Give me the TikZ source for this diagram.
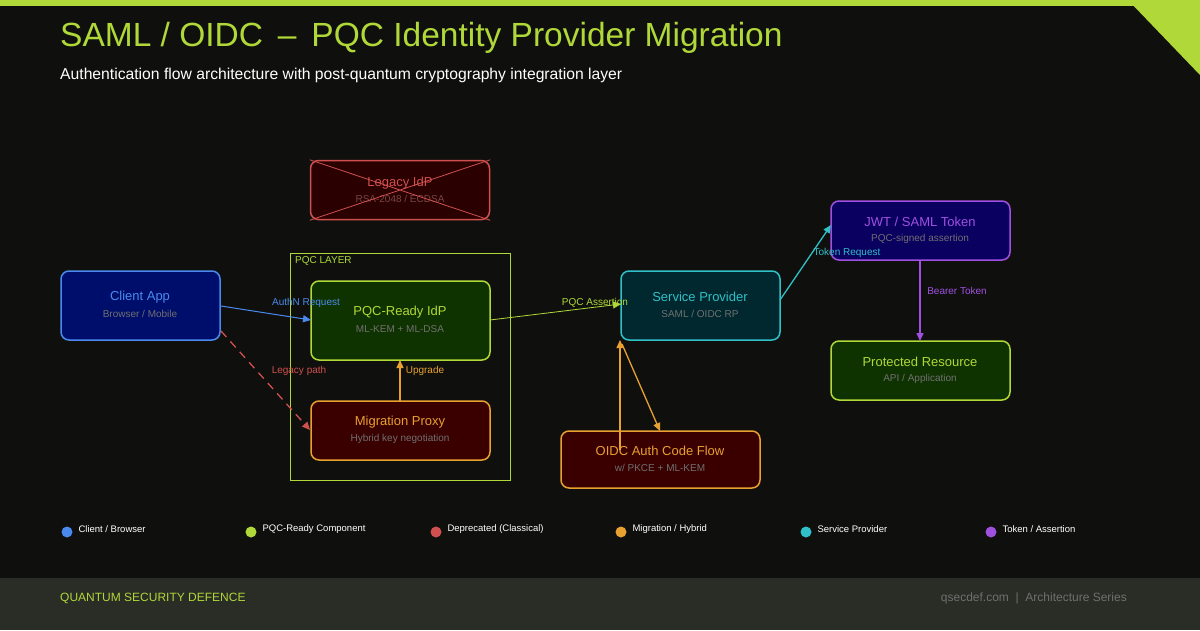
\documentclass[tikz,border=0pt]{standalone}
\usepackage{fontspec}
\setmainfont{Liberation Sans}
\usetikzlibrary{arrows.meta}
\definecolor{bg}{HTML}{0F100D}
\definecolor{lime}{HTML}{B0D838}
\definecolor{cblue}{HTML}{4A8AEF}
\definecolor{cred}{HTML}{D05050}
\definecolor{corange}{HTML}{E8A030}
\definecolor{ccyan}{HTML}{30C0C8}
\definecolor{cpurple}{HTML}{A050E0}
\definecolor{subtxt}{HTML}{707070}
\definecolor{fred}{HTML}{2A0000}
\definecolor{fred2}{HTML}{3A0000}
\definecolor{fblue}{HTML}{000E6B}
\definecolor{fgreen}{HTML}{0F3300}
\definecolor{fcyan}{HTML}{00282E}
\definecolor{fpurple}{HTML}{0A0060}
\definecolor{legsub}{HTML}{784646}
\definecolor{footbg}{HTML}{2A2C26}
\begin{document}
\begin{tikzpicture}[x=1pt,y=-1pt,
  box/.style={draw, line width=1.5pt, rounded corners=8pt, inner sep=0pt},
  ttl/.style={font=\fontsize{13}{13}\selectfont},
  sub/.style={font=\fontsize{10}{10}\selectfont, text=subtxt},
  lbl/.style={font=\fontsize{10}{10}\selectfont},
  arr/.style={-{Triangle[length=8pt,width=7pt]}, line width=1.3pt},
  leg/.style={font=\fontsize{9.5}{9.5}\selectfont, text=white, anchor=west}]
\fill[bg] (0,0) rectangle (1200,630);
\useasboundingbox (0,0) rectangle (1200,630);
\fill[lime] (0,0) rectangle (1200,6);
\fill[lime] (1128,0) -- (1200,0) -- (1200,75) -- cycle;
\node[anchor=west, text=lime, font=\fontsize{33.5}{33.5}\selectfont, inner sep=0pt] (title) at (60,38) {SAML / OIDC \,–\, PQC Identity Provider Migration};
\node[anchor=west, text=white, font=\fontsize{15.7}{15.7}\selectfont, inner sep=0pt] (subtitle) at (60,75) {Authentication flow architecture with post-quantum cryptography integration layer};
% PQC layer
\node[draw=lime, line width=0.8pt, minimum width=220pt, minimum height=227pt, anchor=north west] (layer) at (290,253) {};
\node[anchor=north west, text=lime, font=\fontsize{10}{10}\selectfont, inner sep=0pt] (layerlbl) at (295,256) {PQC LAYER};
% nodes
\node[box, draw=cred, fill=fred, minimum width=179pt, minimum height=59pt] (legacy) at (400,190) {};
\node[ttl, text=cred] (legacyT) at (400,183) {Legacy IdP};
\node[sub, text=legsub] (legacyS) at (400,199) {RSA-2048 / ECDSA};
\draw[cred, line width=0.8pt] (legacy.north west) -- (legacy.south east) (legacy.south west) -- (legacy.north east);

\node[box, draw=cblue, fill=fblue, minimum width=159pt, minimum height=69pt] (client) at (140.5,305.5) {};
\node[ttl, text=cblue] at (140,297) {Client App};
\node[sub] at (140,314) {Browser / Mobile};

\node[box, draw=lime, fill=fgreen, minimum width=179pt, minimum height=79pt] (idp) at (400.5,320.5) {};
\node[ttl, text=lime] at (400,312) {PQC-Ready IdP};
\node[sub] at (400,329) {ML-KEM + ML-DSA};

\node[box, draw=corange, fill=fred2, minimum width=179pt, minimum height=59pt] (proxy) at (400.5,430.5) {};
\node[ttl, text=corange] at (400,422) {Migration Proxy};
\node[sub] at (400,439) {Hybrid key negotiation};

\node[box, draw=ccyan, fill=fcyan, minimum width=159pt, minimum height=69pt] (sp) at (700.5,305.5) {};
\node[ttl, text=ccyan] at (700,297) {Service Provider};
\node[sub] at (700,314) {SAML / OIDC RP};

\node[box, draw=corange, fill=fred2, minimum width=199pt, minimum height=57pt] (oidc) at (660.5,459.5) {};
\node[ttl, text=corange] at (660,451) {OIDC Auth Code Flow};
\node[sub] at (660,468) {w/ PKCE + ML-KEM};

\node[box, draw=cpurple, fill=fpurple, minimum width=179pt, minimum height=59pt] (jwt) at (920.5,230.5) {};
\node[ttl, text=cpurple] at (920,222) {JWT / SAML Token};
\node[sub] at (920,239) {PQC-signed assertion};

\node[box, draw=lime, fill=fgreen, minimum width=179pt, minimum height=59pt] (prot) at (920.5,370.5) {};
\node[ttl, text=lime] at (920,362) {Protected Resource};
\node[sub] at (920,379) {API / Application};

% connectors
\coordinate (c1) at (221,306); \coordinate (i1) at (311,320);
\draw[arr, cblue, line width=1pt] (c1) -- (i1);
\node[lbl, text=cblue] at (306,303) {AuthN Request};
\coordinate (c2) at (221,331); \coordinate (p1) at (310,430);
\draw[arr, cred, dash pattern=on 8pt off 6pt] (c2) -- (p1);
\node[lbl, text=cred] at (299,371) {Legacy path};
\coordinate (p2) at (400,401); \coordinate (i2) at (400,360);
\draw[arr, corange] (p2) -- (i2);
\node[lbl, text=corange] at (425,371) {Upgrade};
\coordinate (i3) at (490,320); \coordinate (s1) at (621,304);
\draw[arr, lime, line width=0.8pt] (i3) -- (s1);
\node[lbl, text=lime] at (595,303) {PQC Assertion};
\coordinate (s2) at (780,300); \coordinate (j1) at (831,225);
\draw[arr, ccyan] (s2) -- (j1);
\node[lbl, text=ccyan] at (847,253) {Token Request};
\coordinate (j2) at (920,260); \coordinate (r1) at (920,341);
\draw[arr, cpurple] (j2) -- (r1);
\node[lbl, text=cpurple] at (957,291) {Bearer Token};
\coordinate (o1) at (620,450); \coordinate (s3) at (620,340);
\draw[arr, corange] (o1) -- (s3);
\coordinate (s4) at (622,344); \coordinate (o2) at (660,431);
\draw[arr, corange] (s4) -- (o2);

% legend
\foreach \x/\c/\t in {67/cblue/{Client / Browser}, 251/lime/{PQC-Ready Component}, 436/cred/{Deprecated (Classical)}, 621/corange/{Migration / Hybrid}, 806/ccyan/{Service Provider}, 991/cpurple/{Token / Assertion}}{
  \fill[\c] (\x,532) circle (5.5pt);
  \node[leg] at (\x+8,529) {\t};
}
% footer
\fill[footbg] (0,578) rectangle (1200,630);
\node[anchor=west, text=lime, font=\fontsize{12}{12}\selectfont, inner sep=0pt] (foot1) at (60,598) {QUANTUM SECURITY DEFENCE};
\node[anchor=east, text=subtxt, font=\fontsize{12}{12}\selectfont, inner sep=0pt] (foot2) at (1127,598) {qsecdef.com \;|\; Architecture Series};
\end{tikzpicture}
\end{document}
